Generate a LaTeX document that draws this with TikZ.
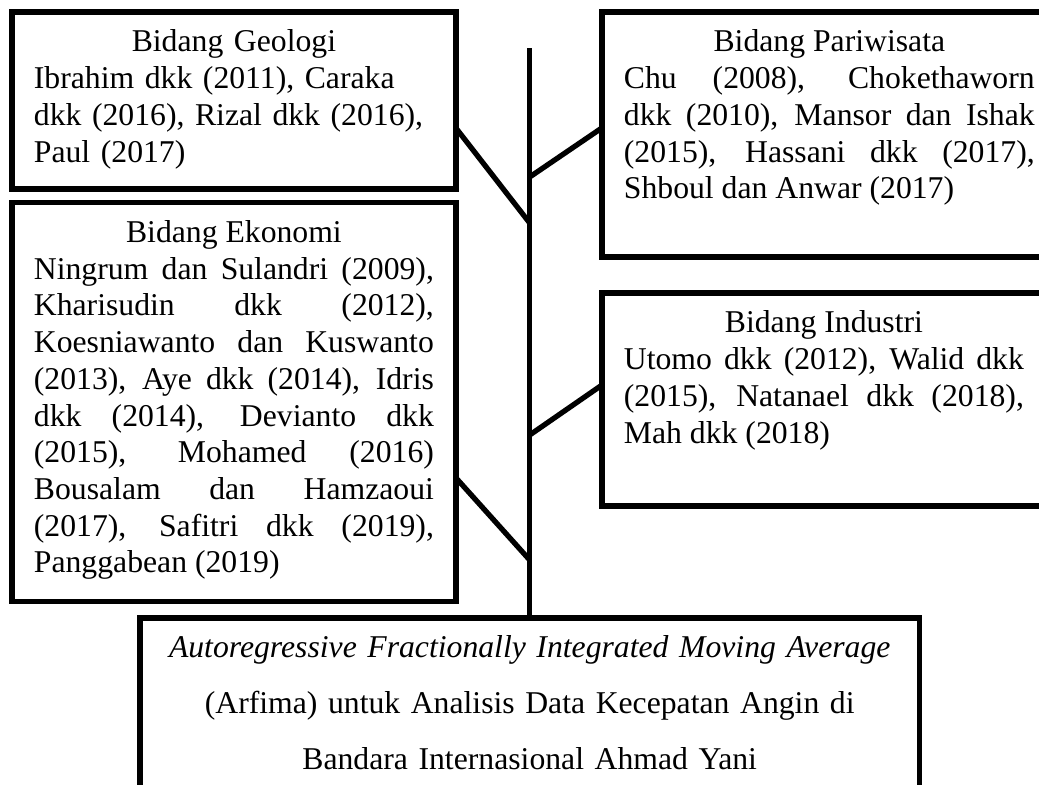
\documentclass[tikz,border=0pt]{standalone}
\usepackage{fontspec}
\setmainfont{Liberation Serif}
\usetikzlibrary{calc}

\tikzset{
	bidang/.style={draw, line width=2pt, rectangle, anchor=north west, outer sep=0pt,
		inner xsep=8.3pt, inner ysep=0pt, text width=151.4pt, text height=15.1pt,
		align=justify, font=\fontsize{12}{13.9}\selectfont},
	judulbox/.style={draw, line width=2pt, rectangle, anchor=north west, outer sep=0pt,
		inner xsep=2pt, inner ysep=0pt, text width=291pt, align=center, text height=15.1pt,
		font=\fontsize{12}{21.2}\selectfont},
	garis/.style={line width=2pt}
}

\begin{document}
\begin{tikzpicture}[x=0.3785pt, y=-0.3785pt]
		\useasboundingbox (0,0) rectangle (1039,785);
		\clip (0,0) rectangle (1039,785);
		
		% Geologi
		\node[bidang, align=left, text depth=51.9pt] (geologi) at (12,12) {{\centering Bidang Geologi\par}Ibrahim dkk (2011), Caraka\\ dkk (2016), Rizal dkk (2016),\\ Paul (2017)};
		
		% Ekonomi
		\node[bidang, text depth=135.9pt] (ekonomi) at (12,202.5) {{\centering Bidang Ekonomi\par}Ningrum dan Sulandri (2009),\linebreak Kharisudin dkk (2012),\linebreak Koesniawanto dan Kuswanto\linebreak (2013), Aye dkk (2014), Idris\linebreak dkk (2014), Devianto dkk\linebreak (2015), Mohamed (2016)\linebreak Bousalam dan Hamzaoui\linebreak (2017), Safitri dkk (2019),\linebreak Panggabean (2019)};
		
		% Pariwisata
		\node[bidang, text width=155.5pt, text depth=77.6pt] (pariwisata) at (602,12) {{\centering Bidang Pariwisata\par}Chu (2008), Chokethaworn\linebreak dkk (2010), Mansor dan Ishak\linebreak (2015), Hassani dkk (2017),\linebreak Shboul dan Anwar (2017)};
		
		% Industri
		\node[bidang, text depth=65.5pt] (industri) at (602,293) {{\centering Bidang Industri\par}Utomo dkk (2012), Walid dkk\linebreak (2015), Natanael dkk (2018),\linebreak Mah dkk (2018)};
		
		% Judul
		\node[judulbox, text depth=120pt] (judul) at (140,618) {\textit{Autoregressive Fractionally Integrated Moving Average}\\ (Arfima) untuk Analisis Data Kecepatan Angin di\\ Bandara Internasional Ahmad Yani};
		
		% Batang
		\coordinate (pucuk) at ($(judul.north)+(0,-570)$);
		\coordinate (c-pariwisata) at ($(judul.north)+(0,-441)$);
		\coordinate (c-geologi) at ($(judul.north)+(0,-395)$);
		\coordinate (c-industri) at ($(judul.north)+(0,-183)$);
		\coordinate (c-ekonomi) at ($(judul.north)+(0,-58)$);
		\draw[garis] (pucuk) -- (judul.north);
		
		% Cabang
		\draw[garis] ($(geologi.north east)!0.655!(geologi.south east)$) -- (c-geologi);
		\draw[garis] ($(pariwisata.north west)!0.473!(pariwisata.south west)$) -- (c-pariwisata);
		\draw[garis] ($(industri.north west)!0.432!(industri.south west)$) -- (c-industri);
		\draw[garis] ($(ekonomi.north east)!0.69!(ekonomi.south east)$) -- (c-ekonomi);
	\end{tikzpicture}
\end{document}
